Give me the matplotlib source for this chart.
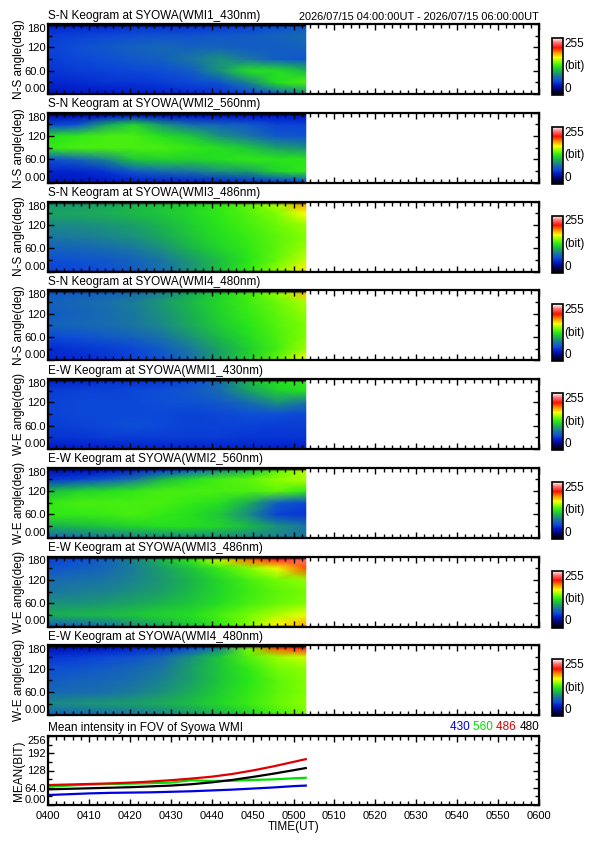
import numpy as np
import matplotlib
matplotlib.use('Agg')
import matplotlib.pyplot as plt
from matplotlib.colors import LinearSegmentedColormap
from matplotlib import transforms

plt.rcParams['font.family'] = ['Liberation Sans', 'DejaVu Sans']

# ---------------- data ----------------
TIME_COLS = [0, 7, 14, 21, 28, 35, 42, 49, 56, 63]          # minutes after 04:00
ANGLE_ROWS = [4, 30, 60, 90, 120, 150, 172]                 # deg, bottom -> top
EDGE_LOW = [0]                                              # no-data edge rows (value 0)
EDGE_HIGH = [177, 180]

# rows follow ANGLE_ROWS (bottom -> top), columns follow TIME_COLS
SN_430 = [
    [42, 45, 45, 48, 50, 52, 55, 62, 78, 95],
    [50, 52, 55, 55, 58, 62, 68, 90, 125, 135],
    [55, 58, 60, 62, 65, 72, 95, 125, 125, 110],
    [58, 62, 65, 70, 74, 85, 95, 85, 72, 68],
    [60, 65, 70, 75, 78, 75, 75, 72, 72, 75],
    [58, 60, 62, 65, 68, 68, 70, 72, 75, 80],
    [50, 52, 52, 55, 55, 55, 58, 60, 65, 70],
]
SN_560 = [
    [42, 42, 45, 48, 50, 50, 52, 55, 60, 65],
    [50, 50, 55, 70, 80, 85, 95, 100, 120, 130],
    [65, 75, 90, 115, 120, 120, 125, 130, 128, 128],
    [130, 135, 135, 135, 135, 130, 125, 115, 100, 95],
    [125, 130, 135, 135, 125, 115, 95, 85, 70, 68],
    [60, 65, 100, 120, 95, 80, 75, 70, 60, 60],
    [40, 40, 45, 50, 45, 45, 45, 45, 45, 45],
]
SN_486 = [
    [60, 62, 65, 72, 82, 95, 112, 130, 150, 172],
    [65, 67, 70, 76, 85, 98, 112, 128, 142, 158],
    [75, 77, 80, 86, 95, 108, 120, 130, 140, 152],
    [85, 87, 90, 95, 103, 115, 125, 132, 140, 148],
    [92, 93, 96, 100, 108, 118, 128, 135, 143, 152],
    [102, 103, 105, 110, 115, 122, 130, 138, 148, 168],
    [98, 98, 102, 108, 114, 120, 130, 140, 155, 188],
]
SN_480 = [
    [50, 52, 55, 60, 68, 82, 100, 120, 140, 165],
    [52, 55, 58, 62, 72, 86, 102, 118, 134, 152],
    [62, 65, 70, 75, 84, 96, 110, 124, 136, 148],
    [75, 78, 80, 85, 92, 104, 117, 128, 138, 147],
    [72, 75, 80, 86, 95, 106, 120, 131, 140, 150],
    [75, 78, 82, 88, 98, 110, 122, 133, 143, 155],
    [70, 72, 75, 80, 90, 104, 120, 134, 150, 180],
]
EW_430 = [
    [45, 48, 48, 50, 50, 50, 50, 50, 48, 48],
    [55, 55, 58, 58, 58, 58, 58, 56, 55, 55],
    [58, 60, 62, 65, 62, 60, 60, 60, 58, 58],
    [60, 62, 62, 62, 62, 60, 62, 65, 65, 62],
    [60, 62, 62, 62, 65, 66, 70, 80, 95, 85],
    [58, 60, 60, 62, 65, 70, 80, 100, 118, 125],
    [50, 52, 55, 55, 58, 64, 80, 108, 125, 130],
]
EW_560 = [
    [80, 85, 90, 92, 95, 95, 95, 92, 90, 85],
    [105, 110, 115, 120, 125, 125, 120, 110, 95, 85],
    [130, 130, 132, 135, 130, 125, 115, 92, 60, 55],
    [130, 135, 135, 135, 135, 130, 125, 105, 72, 62],
    [110, 120, 125, 130, 135, 135, 135, 135, 140, 130],
    [55, 60, 70, 85, 110, 125, 135, 140, 150, 155],
    [40, 42, 45, 50, 60, 75, 95, 110, 140, 155],
]
EW_486 = [
    [75, 80, 85, 95, 105, 115, 130, 148, 170, 185],
    [105, 108, 110, 115, 120, 125, 135, 145, 155, 165],
    [95, 95, 98, 102, 108, 115, 125, 135, 142, 148],
    [85, 88, 90, 95, 100, 110, 122, 132, 140, 145],
    [80, 82, 85, 90, 98, 108, 122, 135, 145, 150],
    [68, 72, 78, 88, 100, 115, 132, 148, 165, 200],
    [60, 65, 75, 90, 110, 130, 160, 195, 218, 232],
]
EW_480 = [
    [75, 78, 82, 85, 90, 98, 108, 120, 135, 145],
    [92, 95, 98, 100, 105, 112, 122, 132, 142, 150],
    [78, 80, 82, 88, 95, 105, 118, 130, 140, 148],
    [72, 75, 78, 82, 90, 100, 115, 128, 140, 148],
    [65, 68, 72, 78, 85, 100, 115, 130, 145, 150],
    [55, 58, 62, 68, 78, 95, 115, 138, 152, 160],
    [40, 42, 45, 50, 55, 65, 90, 145, 200, 218],
]
KEO_TITLES = [
    'S-N Keogram at SYOWA(WMI1_430nm)', 'S-N Keogram at SYOWA(WMI2_560nm)',
    'S-N Keogram at SYOWA(WMI3_486nm)', 'S-N Keogram at SYOWA(WMI4_480nm)',
    'E-W Keogram at SYOWA(WMI1_430nm)', 'E-W Keogram at SYOWA(WMI2_560nm)',
    'E-W Keogram at SYOWA(WMI3_486nm)', 'E-W Keogram at SYOWA(WMI4_480nm)',
]
KEO_YLABELS = ['N-S angle(deg)'] * 4 + ['W-E angle(deg)'] * 4
KEO_DATA = [SN_430, SN_560, SN_486, SN_480, EW_430, EW_560, EW_486, EW_480]
ANGLE_TICKS = [0, 60, 120, 180]
ANGLE_TICKLABELS = ['0.00', '60.0', '120', '180']
TIME_TICKS = [0, 10, 20, 30, 40, 50, 60, 70, 80, 90, 100, 110, 120]
TIME_TICKLABELS = ['0400', '0410', '0420', '0430', '0440', '0450', '0500',
                   '0510', '0520', '0530', '0540', '0550', '0600']
PERIOD_TEXT = '2026/07/15 04:00:00UT - 2026/07/15 06:00:00UT'
CBAR_LABELS = ['0', '(bit)', '255']

MEAN_TIMES = [0, 5, 10, 15, 20, 25, 30, 35, 40, 45, 50, 55, 60, 63]
MEAN_430 = [37, 40, 43, 45, 46, 47, 49, 51, 54, 57, 61, 65, 70, 72]
MEAN_560 = [68, 72, 76, 78, 79, 81, 83, 92, 89, 90, 93, 95, 99, 101]
MEAN_486 = [74, 76, 78, 80, 83, 87, 92, 98, 105, 115, 128, 143, 160, 170]
MEAN_480 = [58, 60, 62, 64, 66, 69, 72, 77, 84, 93, 104, 116, 129, 137]
MEAN_NAMES = ['430', '560', '486', '480']
MEAN_COLORS = ['#0000e0', '#00e000', '#e00000', '#000000']
MEAN_TICKS = [0, 64, 128, 192, 256]
MEAN_TICKLABELS = ['0.00', '64.0', '128', '192', '256']

# ---------------- style ----------------
cmap = LinearSegmentedColormap.from_list('keo', [
    (0.00, (0.0, 0.0, 0.0)),
    (0.08, (0.0, 0.0, 0.35)),
    (0.18, (0.0, 0.1, 0.80)),
    (0.25, (0.05, 0.30, 0.85)),
    (0.33, (0.10, 0.45, 0.65)),
    (0.42, (0.10, 0.70, 0.30)),
    (0.50, (0.15, 0.90, 0.10)),
    (0.58, (0.50, 1.00, 0.00)),
    (0.66, (1.00, 1.00, 0.00)),
    (0.74, (1.00, 0.60, 0.00)),
    (0.83, (1.00, 0.05, 0.00)),
    (0.92, (1.00, 0.45, 0.45)),
    (1.00, (1.00, 1.00, 1.00)),
])

W, H = 595, 842
FS = 8.0          # tick labels
FS_T = 8.5        # titles / axis labels
FS_P = 7.9        # period text


def rect(l, t, w, h):
    return [l / W, 1 - (t + h) / H, w / W, h / H]


def style_axes(ax):
    for s in ax.spines.values():
        s.set_linewidth(1.6)
        s.set_zorder(5)
    ax.tick_params(which='both', direction='in', top=True, right=True,
                   width=1.0, labelsize=FS, pad=1.5)
    ax.tick_params(which='major', length=4)
    ax.tick_params(which='minor', length=3)
    ax.tick_params(axis='x', pad=4)
    ax.set_xlim(0, 120)
    ax.set_xticks(TIME_TICKS)
    ax.set_xticks(np.arange(0, 121, 2), minor=True)


def shift_end_labels(ax):
    labs = ax.get_yticklabels()
    labs[0].set_va('bottom')
    labs[-1].set_va('top')


fig = plt.figure(figsize=(W / 100, H / 100), dpi=100)
LEFT, WIDTH, HEIGHT, PITCH, TOP0 = 48, 491, 70, 88.75, 24

for i, data in enumerate(KEO_DATA):
    top = TOP0 + PITCH * i
    ax = fig.add_axes(rect(LEFT, top, WIDTH, HEIGHT))
    ncol = len(TIME_COLS)
    grid = np.vstack([np.zeros((len(EDGE_LOW), ncol)), np.array(data, float),
                      np.zeros((len(EDGE_HIGH), ncol))])
    ys = EDGE_LOW + ANGLE_ROWS + EDGE_HIGH
    X, Y = np.meshgrid(TIME_COLS, ys)
    mesh = ax.pcolormesh(X, Y, grid, shading='gouraud', cmap=cmap, vmin=0, vmax=255)
    style_axes(ax)
    ax.set_ylim(0, 180)
    ax.set_yticks(ANGLE_TICKS)
    ax.set_yticklabels(ANGLE_TICKLABELS)
    ax.set_yticks([30, 90, 150], minor=True)
    shift_end_labels(ax)
    ax.set_xticklabels([])
    ax.set_ylabel(KEO_YLABELS[i], fontsize=FS_T, labelpad=1)
    ax.yaxis.set_label_coords(-0.046, 0.5)
    off = transforms.offset_copy(ax.transAxes, fig=fig, x=0, y=2.5, units='dots')
    ax.text(0, 1, KEO_TITLES[i], transform=off, ha='left', va='bottom', fontsize=FS_T)
    if i == 0:
        ax.text(1, 1, PERIOD_TEXT, transform=off, ha='right', va='bottom', fontsize=FS_P)
    cax = fig.add_axes(rect(552, top + 14, 11, 57))
    cb = fig.colorbar(mesh, cax=cax, ticks=[])
    cb.outline.set_linewidth(1.2)
    cax.text(1.15, 1, CBAR_LABELS[2], transform=cax.transAxes, ha='left', va='top', fontsize=FS_T)
    cax.text(1.15, 0.5, CBAR_LABELS[1], transform=cax.transAxes, ha='left', va='center', fontsize=FS_T)
    cax.text(1.15, 0, CBAR_LABELS[0], transform=cax.transAxes, ha='left', va='bottom', fontsize=FS_T)

# mean intensity panel
top = 736
ax = fig.add_axes(rect(LEFT, top, WIDTH, 69))
for vals, c in zip([MEAN_430, MEAN_560, MEAN_486, MEAN_480], MEAN_COLORS):
    ax.plot(MEAN_TIMES, vals, color=c, lw=1.6)
style_axes(ax)
ax.set_ylim(0, 256)
ax.set_yticks(MEAN_TICKS)
ax.set_yticklabels(MEAN_TICKLABELS)
ax.set_yticks([32, 96, 160, 224], minor=True)
shift_end_labels(ax)
ax.set_xticklabels(TIME_TICKLABELS)
ax.set_ylabel('MEAN(BIT)', fontsize=FS_T, labelpad=1)
ax.yaxis.set_label_coords(-0.046, 0.5)
ax.set_xlabel('TIME(UT)', fontsize=FS_T, labelpad=0)
off = transforms.offset_copy(ax.transAxes, fig=fig, x=0, y=2.5, units='dots')
ax.text(0, 1, 'Mean intensity in FOV of Syowa WMI', transform=off, ha='left', va='bottom', fontsize=FS_T)
prev = ax.text(1, 1, MEAN_NAMES[-1], transform=off, ha='right', va='bottom',
               fontsize=FS_T, color=MEAN_COLORS[-1])
for name, c in zip(MEAN_NAMES[-2::-1], MEAN_COLORS[-2::-1]):
    prev = ax.annotate(name + ' ', xy=(0, 0), xycoords=prev, ha='right', va='bottom',
                       fontsize=FS_T, color=c)

fig.savefig('out.png', dpi=100)
